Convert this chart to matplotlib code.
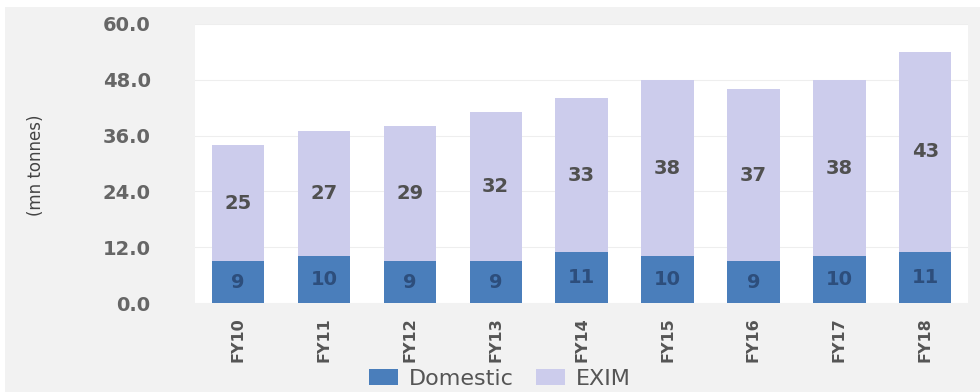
import matplotlib.pyplot as plt
from matplotlib.patches import Rectangle
import numpy as np

# Cargo volumes by financial year (mn tonnes)
years = ["FY10", "FY11", "FY12", "FY13", "FY14", "FY15", "FY16", "FY17", "FY18"]
domestic = [9, 10, 9, 9, 11, 10, 9, 10, 11]
exim = [25, 27, 29, 32, 33, 38, 37, 38, 43]
y_ticks = [0.0, 12.0, 24.0, 36.0, 48.0, 60.0]

dom_color = "#4a7ebb"
exim_color = "#ccccec"

fig = plt.figure(figsize=(9.8, 3.92), dpi=100, facecolor="white")
# light grey chart panel behind the plot
panel = Rectangle((5 / 980, 0), 1, 1 - 7 / 392, transform=fig.transFigure,
                  facecolor="#f2f2f2", edgecolor="none", zorder=-10)
fig.add_artist(panel)

ax = fig.add_axes([0.199, 0.227, 0.789, 0.712])
ax.set_facecolor("white")

x = np.arange(len(years))
bw = 0.61
b1 = ax.bar(x, domestic, bw, color=dom_color, label="Domestic", zorder=3)
b2 = ax.bar(x, exim, bw, bottom=domestic, color=exim_color, label="EXIM", zorder=3)

for i in range(len(years)):
    ax.text(x[i], domestic[i] / 2, str(domestic[i]), ha="center", va="center",
            fontsize=14, fontweight="bold", color="#2d4e7c", zorder=4)
    ax.text(x[i], domestic[i] + exim[i] / 2, str(exim[i]), ha="center", va="center",
            fontsize=14, fontweight="bold", color="#505050", zorder=4)

ax.set_xlim(-0.5, len(years) - 0.5)
ax.set_ylim(0, 60)
ax.set_yticks(y_ticks)
ax.set_yticklabels([f"{v:.1f}" for v in y_ticks], fontsize=14, fontweight="bold",
                   color="#666666")
ax.set_xticks(x)
ax.set_xticklabels(years, rotation=90, fontsize=11.5, fontweight="bold", color="#555555",
                   family=["DejaVu Sans Condensed", "DejaVu Sans"])
ax.tick_params(axis="y", length=0, pad=32)
ax.tick_params(axis="x", length=0, pad=10)
ax.grid(axis="y", color="#eeeeee", lw=0.8, zorder=0)
for s in ax.spines.values():
    s.set_visible(False)

fig.text(36 / 980, 1 - 165 / 392, "(mn tonnes)", rotation=90, ha="center", va="center",
         fontsize=12, color="#444444", family=["DejaVu Sans Condensed", "DejaVu Sans"])

fig.legend(handles=[b1, b2], labels=["Domestic", "EXIM"], loc="center",
           bbox_to_anchor=(500 / 980, 1 - 379 / 392), ncol=2, frameon=False,
           fontsize=16, handlelength=1.3, handleheight=0.7, columnspacing=1.0,
           handletextpad=0.5, labelcolor="#555555")

fig.savefig("out.png", dpi=100, facecolor=fig.get_facecolor())
